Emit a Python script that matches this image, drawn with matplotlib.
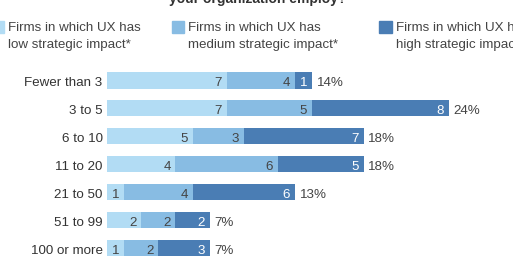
import matplotlib.pyplot as plt
from matplotlib.patches import Rectangle

plt.rcParams['font.family'] = ['Liberation Sans', 'DejaVu Sans']

# data
categories = ['Fewer than 3', '3 to 5', '6 to 10', '11 to 20', '21 to 50', '51 to 99', '100 or more']
low = [7, 7, 5, 4, 1, 2, 1]
medium = [4, 5, 3, 6, 4, 2, 2]
high = [1, 8, 7, 5, 6, 2, 3]
totals = ['14%', '24%', '18%', '18%', '13%', '7%', '7%']
legend_labels = [('Firms in which UX has', 'low strategic impact*'),
                 ('Firms in which UX has', 'medium strategic impact*'),
                 ('Firms in which UX has', 'high strategic impact*')]
title = 'your organization employ?'

colors = ['#b2dcf4', '#88bce3', '#4a7db4']
text_colors = ['#444444', '#444444', 'white']

W, H = 513, 264
fig = plt.figure(figsize=(W / 100, H / 100), dpi=100)

# axes: bars start at x=107px, 17.1 px per unit, rows 27.95 px apart
ax = fig.add_axes([107 / W, (H - 262) / H, (W - 107) / W, (262 - 66.3) / H])
ax.set_xlim(0, (W - 107) / 17.1)
ax.set_ylim(6.5, -0.5)
ax.axis('off')

fs = 9.6
dy = 0.2  # baseline offset below bar centre

y = list(range(len(categories)))
left = [0] * len(categories)
for series, col, tcol in zip([low, medium, high], colors, text_colors):
    ax.barh(y, series, left=left, height=0.59, color=col, edgecolor='none')
    for i, v in enumerate(series):
        ax.text(left[i] + v - 0.28, i + dy, str(v), ha='right', va='baseline',
                fontsize=fs, color=tcol)
    left = [l + v for l, v in zip(left, series)]

for i, (end, t) in enumerate(zip(left, totals)):
    ax.text(end + 0.28, i + dy, t, ha='left', va='baseline', fontsize=fs, color='#444444')
    ax.text(-0.25, i + dy, categories[i], ha='right', va='baseline', fontsize=fs,
            color='#333333', clip_on=False)

# legend drawn by hand
for x0, (l1, l2), col in zip([-8.3, 171.7, 379], legend_labels, colors):
    fig.patches.append(Rectangle((x0 / W, 1 - 32.7 / H), 12.7 / W, 12 / H,
                                 transform=fig.transFigure, color=col))
    fig.text((x0 + 16.6) / W, 1 - 31 / H, l1, ha='left', va='baseline',
             fontsize=fs, color='#444444')
    fig.text((x0 + 16.6) / W, 1 - 47.7 / H, l2, ha='left', va='baseline',
             fontsize=fs, color='#444444')

fig.text(258 / W, 1 - 2.5 / H, title, ha='center', va='baseline',
         fontsize=10, fontweight='bold', color='#333333')

fig.savefig('out.png', dpi=100)
